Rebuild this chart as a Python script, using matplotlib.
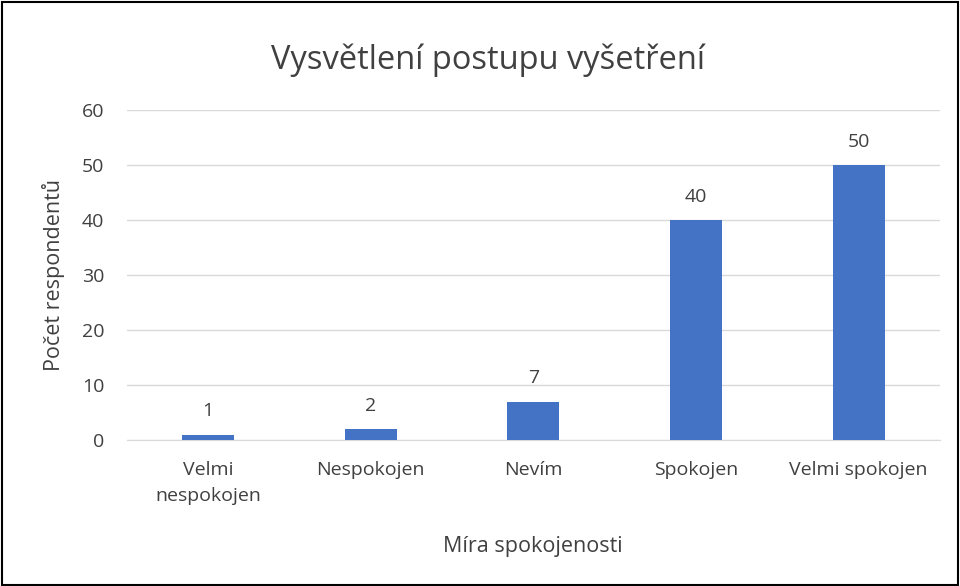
import numpy as np
import matplotlib.pyplot as plt
from matplotlib.patches import Rectangle

categories = ["Velmi\nnespokojen", "Nespokojen", "Nevím", "Spokojen", "Velmi spokojen"]
values = [1, 2, 7, 40, 50]
yticks = [0, 10, 20, 30, 40, 50, 60]

plt.rcParams['font.family'] = ['Open Sans', 'DejaVu Sans']

fig = plt.figure(figsize=(9.6, 5.86), dpi=100)
ax = fig.add_axes([0.132, 0.249, 0.847, 0.563])

x = np.arange(len(categories))
bars = ax.bar(x, values, width=0.32, color='#4472C4', zorder=3)
for xi, v in zip(x, values):
    ax.text(xi, v + 2.6, str(v), ha='center', va='bottom', fontsize=14, color='#404040')

ax.set_xlim(-0.5, len(categories) - 0.5)
ax.set_ylim(0, 60)
ax.set_yticks(yticks)
ax.set_xticks(x)
ax.set_xticklabels(categories, fontsize=14, color='#404040', linespacing=1.6)
ax.tick_params(axis='y', labelsize=14, labelcolor='#404040', length=0, pad=16)
ax.tick_params(axis='x', length=0, pad=15)
ax.grid(axis='y', color='#D9D9D9', linewidth=1, zorder=0)
for s in ['top', 'right', 'left']:
    ax.spines[s].set_visible(False)
ax.spines['bottom'].set_color('#D9D9D9')

ax.set_ylabel("Počet respondentů", fontsize=15.5, color='#404040', labelpad=12)
ax.set_xlabel("Míra spokojenosti", fontsize=15.5, color='#404040', labelpad=22)
fig.text(0.508, 0.898, "Vysvětlení postupu vyšetření", ha='center', va='center',
         fontsize=23.5, color='#404040')

fig.patches.append(Rectangle((0.002, 0.002), 0.996, 0.994, transform=fig.transFigure,
                             fill=False, edgecolor='black', linewidth=1.5))

fig.savefig("out.png", dpi=100)
